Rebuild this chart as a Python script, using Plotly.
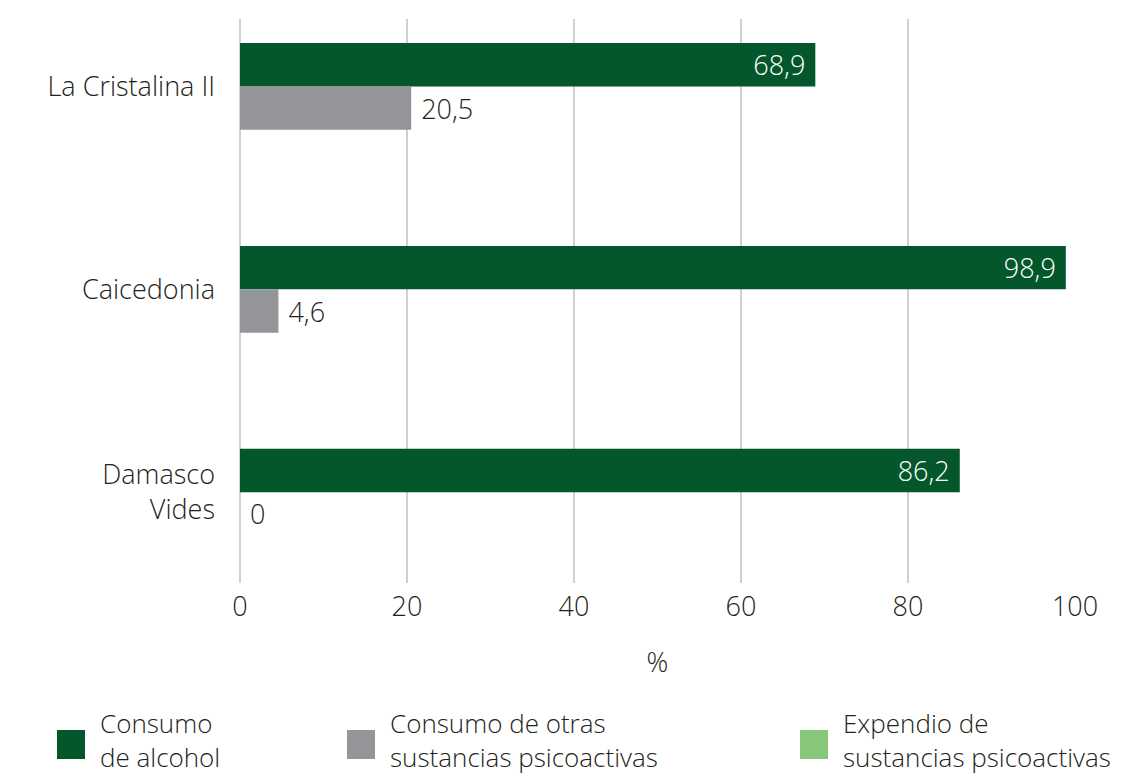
import plotly.graph_objects as go

# Data
categories = ["La Cristalina II", "Caicedonia", "Damasco<br>Vides"]
series_names = ["Consumo de alcohol", "Consumo de otras sustancias psicoactivas",
                "Expendio de sustancias psicoactivas"]
legend_labels = ["Consumo<br>de alcohol", "Consumo de otras<br>sustancias psicoactivas",
                 "Expendio de<br>sustancias psicoactivas"]
alcohol = [68.9, 98.9, 86.2]
otras = [20.5, 4.6, 0]
expendio = [0, 0, 0]
x_ticks = [0, 20, 40, 60, 80, 100]

colors = ["#03572B", "#939598", "#86C77B"]
text_dark = "#231f20"
FONT = "Open Sans"
FW = 300
FS = 27
LEG_FS = 26
NBSP = "\u00a0"


def fmt(v):
    return str(int(v)) if float(v).is_integer() else f"{v:.1f}".replace(".", ",")


def tfont(color=text_dark, size=FS):
    return dict(family=FONT, size=size, color=color, weight=FW)


W, H = 1139, 776
ML, MR, MT, MB = 240, 64, 19, 193
BW = 0.214  # bar thickness in category units

fig = go.Figure()
fig.add_trace(go.Bar(
    y=categories, x=alcohol, orientation="h", name=series_names[0],
    marker=dict(color=colors[0], line=dict(width=0)),
    offset=-BW, width=BW,
    text=[fmt(v) + NBSP for v in alcohol], textposition="inside", insidetextanchor="end",
    textfont=tfont("white"), cliponaxis=False,
    showlegend=False,
))
fig.add_trace(go.Bar(
    y=categories, x=otras, orientation="h", name=series_names[1],
    marker=dict(color=colors[1], line=dict(width=0)),
    offset=0, width=BW,
    text=[NBSP + fmt(v) for v in otras], textposition="outside",
    textfont=tfont(), cliponaxis=False,
    showlegend=False,
))
fig.add_trace(go.Bar(
    y=categories, x=expendio, orientation="h", name=series_names[2],
    marker=dict(color=colors[2], line=dict(width=0)),
    offset=BW, width=BW, showlegend=False,
))

# Legend drawn as swatches + two-line labels below the plot
plot_w = W - ML - MR
plot_h = H - MT - MB


def px_x(px):
    return (px - ML) / plot_w


def px_y(py):
    return (H - MB - py) / plot_h


swatch_px = [57, 347, 800]
sw, sh = 28, 29
sy_top = 730
for i, (lbl, col) in enumerate(zip(legend_labels, colors)):
    fig.add_shape(type="rect", xref="paper", yref="paper",
                  x0=px_x(swatch_px[i]), x1=px_x(swatch_px[i] + sw),
                  y0=px_y(sy_top + sh), y1=px_y(sy_top),
                  fillcolor=col, line=dict(width=0), layer="above")
    fig.add_annotation(xref="paper", yref="paper",
                       x=px_x(swatch_px[i] + sw + 13), y=px_y(740),
                       text=lbl, showarrow=False, xanchor="left", yanchor="middle",
                       align="left", font=tfont(size=LEG_FS))

fig.update_layout(
    width=W, height=H,
    margin=dict(l=ML, r=MR, t=MT, b=MB, autoexpand=False),
    paper_bgcolor="white", plot_bgcolor="white",
    barmode="overlay",
    font=tfont(),
    showlegend=False,
)
fig.update_xaxes(
    range=[0, 100], tickvals=x_ticks, ticktext=[str(t) for t in x_ticks],
    showgrid=True, gridcolor="#d0d0d0", gridwidth=2,
    zeroline=True, zerolinecolor="#d0d0d0", zerolinewidth=2,
    showline=False, ticks="", ticklabelstandoff=5,
    tickfont=tfont(),
    title=dict(text="%", font=tfont(), standoff=30),
)
fig.update_yaxes(
    type="category", categoryorder="array", categoryarray=categories,
    range=[2.447, -0.332], showgrid=False, zeroline=False, showline=False,
    ticks="", ticklabelstandoff=24,
    tickfont=tfont(),
)

fig.write_html("out.html")
